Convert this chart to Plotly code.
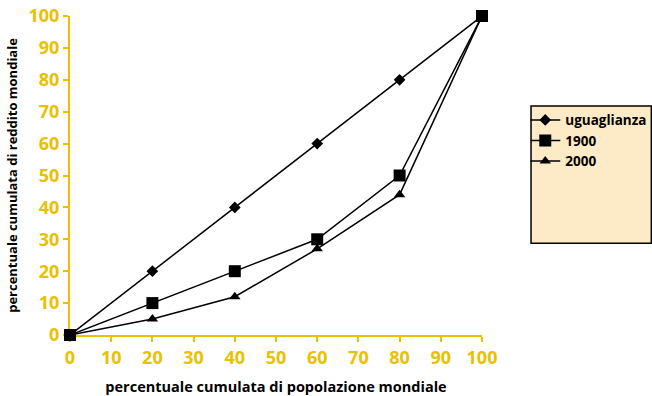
import plotly.graph_objects as go

# Cumulative population share (x) and cumulative income share (y)
popolazione = [0, 20, 40, 60, 80, 100]
uguaglianza = [0, 20, 40, 60, 80, 100]
anno_1900 = [0, 10, 20, 30, 50, 100]
anno_2000 = [0, 5, 12, 27, 44, 100]
x_ticks = [0, 10, 20, 30, 40, 50, 60, 70, 80, 90, 100]
y_ticks = [0, 10, 20, 30, 40, 50, 60, 70, 80, 90, 100]

GOLD = "#E8C100"
FONT = "Open Sans"

fig = go.Figure()
series = [
    ("uguaglianza", uguaglianza, "diamond", 9),
    ("1900", anno_1900, "square", 12),
    ("2000", anno_2000, "triangle-up", 10),
]
for name, vals, sym, size in series:
    fig.add_trace(go.Scatter(
        x=popolazione, y=vals, name=name, mode="lines+markers",
        line=dict(color="black", width=1.5),
        marker=dict(symbol=sym, size=size, color="black"),
        cliponaxis=False,
    ))

axis_common = dict(
    showline=True, linecolor=GOLD, linewidth=2,
    ticks="outside", tickcolor=GOLD, ticklen=5, tickwidth=2,
    showgrid=False, zeroline=False, layer="below traces", automargin=False,
    tickfont=dict(family=FONT, size=18, color=GOLD, weight="bold"),
)
fig.update_xaxes(range=[0, 100], tickvals=x_ticks,
                 title=dict(text="<b>percentuale cumulata di popolazione mondiale</b>",
                            font=dict(family=FONT, size=14.5, color="black"), standoff=14),
                 **axis_common)
fig.update_yaxes(range=[0, 100], tickvals=y_ticks,
                 title=dict(text="<b>percentuale cumulata di reddito mondiale</b>",
                            font=dict(family=FONT, size=13, color="black"), standoff=8),
                 **axis_common)

# Legend box
fig.add_shape(type="rect", xref="paper", yref="paper",
              x0=1.119, x1=1.411, y0=0.288, y1=0.718,
              fillcolor="#FCEBC6", line=dict(color="black", width=1.5), layer="below")

fig.update_layout(
    width=652, height=396,
    margin=dict(l=70, r=170, t=16, b=61, autoexpand=False),
    paper_bgcolor="white", plot_bgcolor="white",
    showlegend=True,
    legend=dict(x=1.105, y=0.722, xanchor="left", yanchor="top",
                bgcolor="rgba(0,0,0,0)", borderwidth=0,
                font=dict(family=FONT, size=13.5, color="black", weight="bold"),
                itemwidth=30, tracegroupgap=0),
)

fig.write_html("out.html")
